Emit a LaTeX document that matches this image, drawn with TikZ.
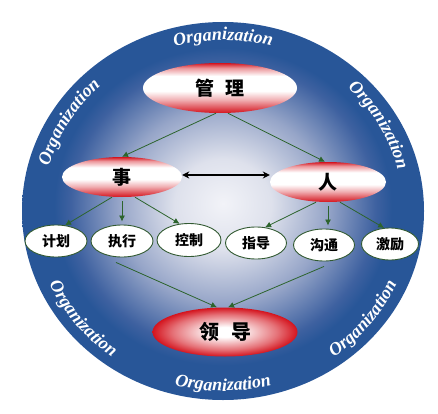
\documentclass[tikz,border=0pt]{standalone}
\usepackage{fontspec}
\setmainfont{Liberation Serif}
\newfontfamily\cjk{Noto Sans CJK SC}
\usetikzlibrary{shapes.geometric,arrows.meta,decorations.text}
\definecolor{bgblue}{RGB}{40,86,152}
\definecolor{bgmid}{RGB}{150,165,200}
\definecolor{bgpale}{RGB}{222,225,236}
\definecolor{bglight}{RGB}{242,243,248}
\definecolor{bgdeep}{RGB}{62,97,160}
\definecolor{rd}{RGB}{212,20,30}
\definecolor{arr}{RGB}{45,100,45}
\definecolor{ringgreen}{RGB}{50,90,50}
\pgfdeclareradialshading{orgbg}{\pgfpoint{0bp}{1bp}}{color(0bp)=(bglight); color(6bp)=(bgpale); color(13bp)=(bgmid); color(19bp)=(bgdeep); color(21bp)=(bgblue); color(50bp)=(bgblue)}
\pgfdeclareverticalshading{redband}{100bp}{color(0bp)=(rd); color(25bp)=(rd); color(30bp)=(rd!75!white); color(38bp)=(rd!35!white); color(47bp)=(white); color(62bp)=(white); color(70bp)=(rd!45!white); color(75bp)=(rd); color(100bp)=(rd)}
\pgfdeclareradialshading{redglow}{\pgfpoint{0bp}{0bp}}{color(0bp)=(white); color(5bp)=(white); color(18bp)=(rd!60!white); color(25bp)=(rd); color(50bp)=(rd)}
\tikzset{
  bigell/.style={ellipse, shading=redband, inner sep=0pt, font=\cjk\bfseries\fontsize{19}{19}\selectfont},
  smallell/.style={ellipse, draw=ringgreen, line width=0.9pt, fill=white, inner sep=0pt, minimum width=62pt, minimum height=32pt, font=\cjk\bfseries\fontsize{14}{14}\selectfont},
  conn/.style={draw=arr, line width=0.8pt, -{Latex[length=6pt,width=6pt]}},
  orgtext/.style={decorate, decoration={text along path, text align=center, text={|\color{white}\fontsize{18}{18}\selectfont\bfseries\itshape|Organization}}}
}
\begin{document}
\begin{tikzpicture}[x=1pt,y=1pt]
\useasboundingbox (0,0) rectangle (438,413);
\coordinate (c) at (223,202);
\path[shading=orgbg] (c) ellipse [x radius=201, y radius=189];
% ring texts
\path[orgtext] ([shift={(112:180 and 171)}]c) arc[start angle=112, end angle=68, x radius=180, y radius=171];
\path[orgtext] ([shift={(52:180 and 171)}]c) arc[start angle=52, end angle=8, x radius=180, y radius=171];
\path[orgtext] ([shift={(171:180 and 171)}]c) arc[start angle=171, end angle=127, x radius=180, y radius=171];
\path[orgtext] ([shift={(-112:190 and 180)}]c) arc[start angle=-112, end angle=-68, x radius=190, y radius=180];
\path[orgtext] ([shift={(-163:190 and 180)}]c) arc[start angle=-163, end angle=-119, x radius=190, y radius=180];
\path[orgtext] ([shift={(-61:190 and 180)}]c) arc[start angle=-61, end angle=-17, x radius=190, y radius=180];
% nodes
\node[bigell, minimum width=154pt, minimum height=50pt] (gl) at (220,325) {管\hspace{0.6em}理};
\node[bigell, minimum width=120pt, minimum height=40pt] (shi) at (122,236) {事};
\node[bigell, minimum width=116pt, minimum height=40pt] (ren) at (328,231) {人};
\node[smallell] (jh) at (56,172) {计划};
\node[smallell] (zx) at (122,172) {执行};
\node[smallell, minimum width=64pt, minimum height=33pt] (kz) at (189,173) {控制};
\node[smallell, minimum width=61pt] (zd) at (256,170) {指导};
\node[smallell, minimum width=61pt] (gt) at (324,168) {沟通};
\node[smallell, minimum width=57pt] (jl) at (390,169) {激励};
\node[ellipse, shading=redglow, inner sep=0pt, minimum width=145pt, minimum height=49pt, font=\cjk\bfseries\fontsize{20}{20}\selectfont] (ld) at (225,81) {领\hspace{0.6em}导};
% connectors
\draw[conn] ([xshift=-4pt]gl.south) -- (shi.north);
\draw[conn] ([xshift=8pt]gl.south) -- ([xshift=-3pt]ren.north);
\draw[conn] ([xshift=-10pt]shi.south) -- (jh.60);
\draw[conn] ([yshift=-4pt]shi.south) -- ([yshift=3pt]zx.north);
\draw[conn] ([xshift=13pt]shi.south) -- (kz.120);
\draw[conn] ([xshift=-12pt]ren.south) -- (zd.60);
\draw[conn] ([yshift=-4pt]ren.south) -- ([yshift=3pt]ren.south |- gt.north);
\draw[conn] ([xshift=12pt]ren.south) -- (jl.110);
\draw[conn] ([xshift=-6pt,yshift=-5pt]zx.south) -- ([xshift=-8pt]ld.north);
\draw[conn] ([yshift=-5pt]gt.south) -- ([xshift=3pt]ld.north);
\draw[black, line width=1.2pt, {Stealth[length=7pt,width=7pt]}-{Stealth[length=7pt,width=7pt]}] ([yshift=2pt]shi.east) -- ([yshift=2pt]shi.east -| ren.west);
\end{tikzpicture}
\end{document}
